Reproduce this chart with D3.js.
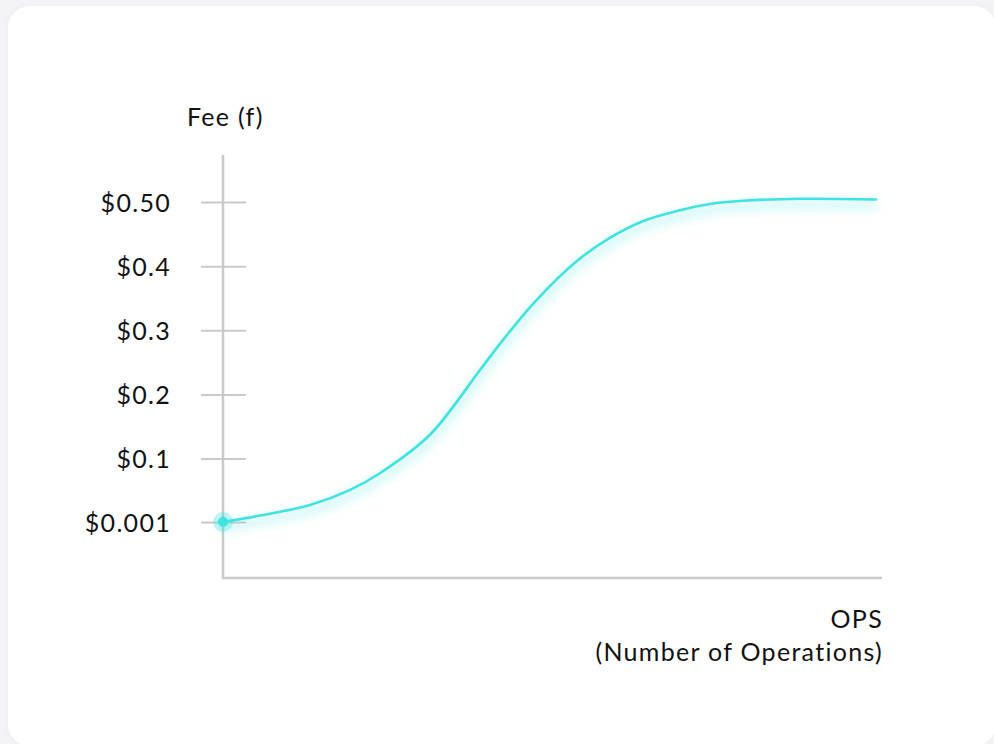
<!DOCTYPE html>
<html>
<head>
<meta charset="utf-8">
<script src="https://cdn.jsdelivr.net/npm/d3@7"></script>
<style>
  html, body { margin: 0; padding: 0; background: #f4f4f6; }
  svg { display: block; }
  text { font-family: "Lato", "Open Sans", sans-serif; fill: #121212; letter-spacing: 1.3px; }
</style>
</head>
<body>
<div id="chart"></div>
<script>
(function() {
  var opsValues, feeValues, tickValues, tickLabels, yTitle, xTitle1, xTitle2;

  // curve (ops in % of axis, fee in dollars)
  opsValues = [0, 5.6, 13.2, 19.3, 23.8, 31.4, 39.0, 42.5, 47.3, 53.7, 58.7, 63.7, 68.9, 73.9, 78.9, 87.6, 99.1];
  feeValues = [0.001, 0.011, 0.0275, 0.051, 0.077, 0.137, 0.238, 0.285, 0.344, 0.408, 0.444, 0.470, 0.486, 0.497, 0.502, 0.505, 0.504];

  tickValues = [0.001, 0.1, 0.2, 0.3, 0.4, 0.5];
  tickLabels = ["$0.001", "$0.1", "$0.2", "$0.3", "$0.4", "$0.50"];

  yTitle = "Fee (f)";
  xTitle1 = "OPS";
  xTitle2 = "(Number of Operations)";

  var W = 994, H = 744;
  var x0 = 223, x1 = 882, yTop = 155, yBase = 578;
  var accent = "#3fe3df", grid = "#c9c9c9";
  var fontSize = "25px";

  var svg = d3.select("#chart").append("svg").attr("width", W).attr("height", H);

  var defs = svg.append("defs");
  var card = defs.append("filter").attr("id", "cardShadow")
    .attr("x", "-5%").attr("y", "-5%").attr("width", "110%").attr("height", "110%");
  card.append("feDropShadow").attr("dx", 0).attr("dy", 0).attr("stdDeviation", 3)
    .attr("flood-color", "#000").attr("flood-opacity", 0.04);

  var glow = defs.append("filter").attr("id", "glow")
    .attr("x", "-10%").attr("y", "-20%").attr("width", "120%").attr("height", "140%");
  glow.append("feGaussianBlur").attr("in", "SourceGraphic").attr("stdDeviation", 5);

  svg.append("rect")
    .attr("x", 8).attr("y", 6).attr("width", 988).attr("height", 740)
    .attr("rx", 22).attr("ry", 22)
    .attr("fill", "#ffffff")
    .attr("filter", "url(#cardShadow)");

  var x = d3.scaleLinear().domain([0, 100]).range([x0, x1]);
  var y = d3.scaleLinear().domain([0.001, 0.5]).range([522, 202]);

  // axes
  svg.append("line")
    .attr("x1", x0).attr("x2", x0).attr("y1", yTop).attr("y2", yBase)
    .attr("stroke", grid).attr("stroke-width", 2.5);
  svg.append("line")
    .attr("x1", x0 - 1.25).attr("x2", x1).attr("y1", yBase).attr("y2", yBase)
    .attr("stroke", grid).attr("stroke-width", 2.5);

  var yAxis = d3.axisLeft(y)
    .tickValues(tickValues)
    .tickSize(0)
    .tickPadding(0)
    .tickFormat(function(d, i) { return tickLabels[i]; });

  var gy = svg.append("g").attr("transform", "translate(" + x0 + ",0)").call(yAxis);
  gy.select(".domain").remove();
  gy.selectAll(".tick line")
    .attr("x1", -22).attr("x2", 23)
    .attr("stroke", grid).attr("stroke-width", 2);
  gy.selectAll(".tick text")
    .attr("x", -52)
    .attr("dy", "0.37em")
    .style("font-family", "Lato, 'Open Sans', sans-serif")
    .style("font-size", fontSize)
    .attr("fill", "#121212");

  // titles
  svg.append("text")
    .attr("x", 187).attr("y", 126)
    .style("font-size", fontSize)
    .text(yTitle);
  svg.append("text")
    .attr("x", x1 + 1).attr("y", 628)
    .attr("text-anchor", "end")
    .style("font-size", fontSize)
    .text(xTitle1);
  svg.append("text")
    .attr("x", x1 + 1).attr("y", 661)
    .attr("text-anchor", "end")
    .style("font-size", fontSize)
    .text(xTitle2);

  var pts = opsValues.map(function(d, i) { return [d, feeValues[i]]; });
  var line = d3.line()
    .x(function(d) { return x(d[0]); })
    .y(function(d) { return y(d[1]); })
    .curve(d3.curveCatmullRom.alpha(0.5));

  // soft glow under the curve
  svg.append("path")
    .datum(pts)
    .attr("d", line)
    .attr("transform", "translate(0,6)")
    .attr("fill", "none")
    .attr("stroke", accent)
    .attr("stroke-opacity", 0.25)
    .attr("stroke-width", 8)
    .attr("filter", "url(#glow)");

  svg.append("path")
    .datum(pts)
    .attr("d", line)
    .attr("fill", "none")
    .attr("stroke", accent)
    .attr("stroke-width", 2.6)
    .attr("stroke-linecap", "round");

  // start point
  svg.append("circle")
    .attr("cx", x(opsValues[0])).attr("cy", y(feeValues[0]))
    .attr("r", 10).attr("fill", accent).attr("fill-opacity", 0.35);
  svg.append("circle")
    .attr("cx", x(opsValues[0])).attr("cy", y(feeValues[0]))
    .attr("r", 5).attr("fill", accent);
})();
</script>
</body>
</html>
